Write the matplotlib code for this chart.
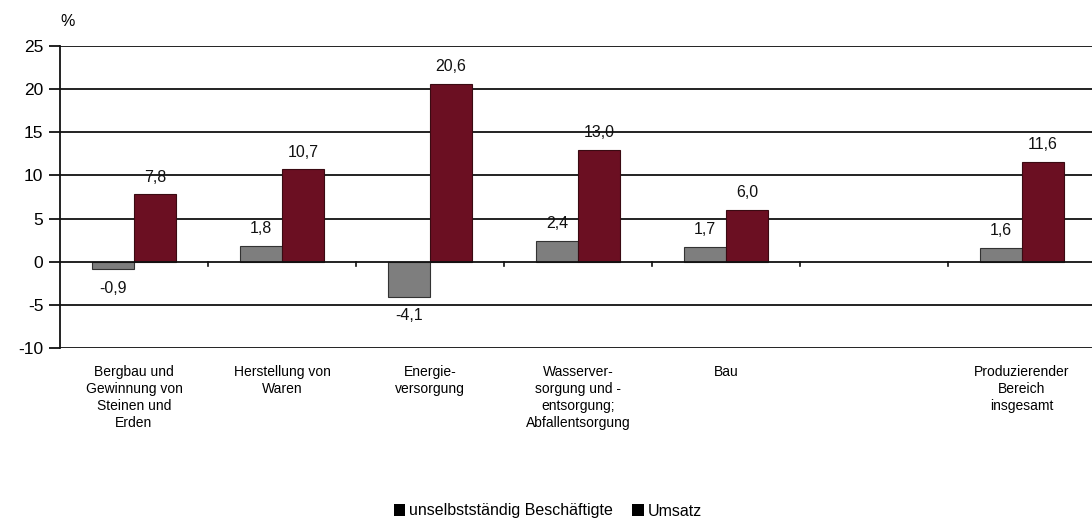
import numpy as np
import matplotlib.pyplot as plt
from matplotlib.patches import Patch

plt.rcParams['font.family'] = ['Liberation Sans', 'DejaVu Sans']

categories = ["Bergbau und\nGewinnung von\nSteinen und\nErden",
              "Herstellung von\nWaren",
              "Energie-\nversorgung",
              "Wasserver-\nsorgung und -\nentsorgung;\nAbfallentsorgung",
              "Bau",
              "",
              "Produzierender\nBereich\ninsgesamt"]
beschaeftigte = [-0.9, 1.8, -4.1, 2.4, 1.7, np.nan, 1.6]
umsatz = [7.8, 10.7, 20.6, 13.0, 6.0, np.nan, 11.6]
series_names = ["unselbstständig Beschäftigte", "Umsatz"]
yticks = [-10, -5, 0, 5, 10, 15, 20, 25]

gray = '#7e7e7e'
red = '#6b0f22'

fig = plt.figure(figsize=(10.92, 5.25), dpi=100)
ax = fig.add_axes([60 / 1092, 1 - 348 / 525, 1036 / 1092, 302 / 525])

x = np.arange(len(categories))
w = 0.285
b1 = ax.bar(x - w / 2, beschaeftigte, w, color=gray, edgecolor='#333333', linewidth=0.8, zorder=3)
b2 = ax.bar(x + w / 2, umsatz, w, color=red, edgecolor='#3a0a12', linewidth=0.8, zorder=3)

def fmt(v):
    return f"{v:.1f}".replace('.', ',')

for bars, vals in ((b1, beschaeftigte), (b2, umsatz)):
    for rect, v in zip(bars, vals):
        if np.isnan(v):
            continue
        cx = rect.get_x() + rect.get_width() / 2
        if v >= 0:
            ax.annotate(fmt(v), (cx, v), xytext=(0, 7), textcoords='offset points',
                        ha='center', va='bottom', fontsize=11.5, color='#111111', zorder=5)
        else:
            ax.annotate(fmt(v), (cx, v), xytext=(0, -8), textcoords='offset points',
                        ha='center', va='top', fontsize=11.5, color='#111111', zorder=5)

ax.set_xlim(-0.5, len(categories) - 0.5)
ax.set_ylim(-10, 25)
ax.set_yticks(yticks)
ax.set_yticklabels([str(t) for t in yticks], fontsize=12.5)
for t in yticks:
    if t != 0:
        ax.axhline(t, color='#111111', linewidth=1.3, zorder=1)
ax.axhline(0, color='#111111', linewidth=1.3, zorder=4)
for b in np.arange(0.5, len(categories) - 0.5, 1):
    ax.plot([b, b], [0, -0.5], color='#111111', linewidth=1.2, zorder=4)

for s in ['top', 'right', 'bottom']:
    ax.spines[s].set_visible(False)
ax.spines['left'].set_linewidth(1.3)
ax.spines['left'].set_color('#111111')
ax.tick_params(axis='y', length=8, width=1.3, pad=4, color='#111111')
ax.tick_params(axis='x', length=0, pad=12)
ax.set_xticks(x)
ax.set_xticklabels(categories, fontsize=10, linespacing=1.28, va='top')

fig.text(68 / 1092, 1 - 22 / 525, '%', fontsize=11.5, ha='center', va='center')

handles = [Patch(facecolor='black'), Patch(facecolor='black')]
fig.legend(handles, series_names, loc='center', bbox_to_anchor=(548 / 1092, 1 - 511 / 525),
           ncol=2, frameon=False, fontsize=11.5, handlelength=0.7, handleheight=0.7,
           handletextpad=0.25, columnspacing=1.2)

fig.savefig('out.png', dpi=100)
